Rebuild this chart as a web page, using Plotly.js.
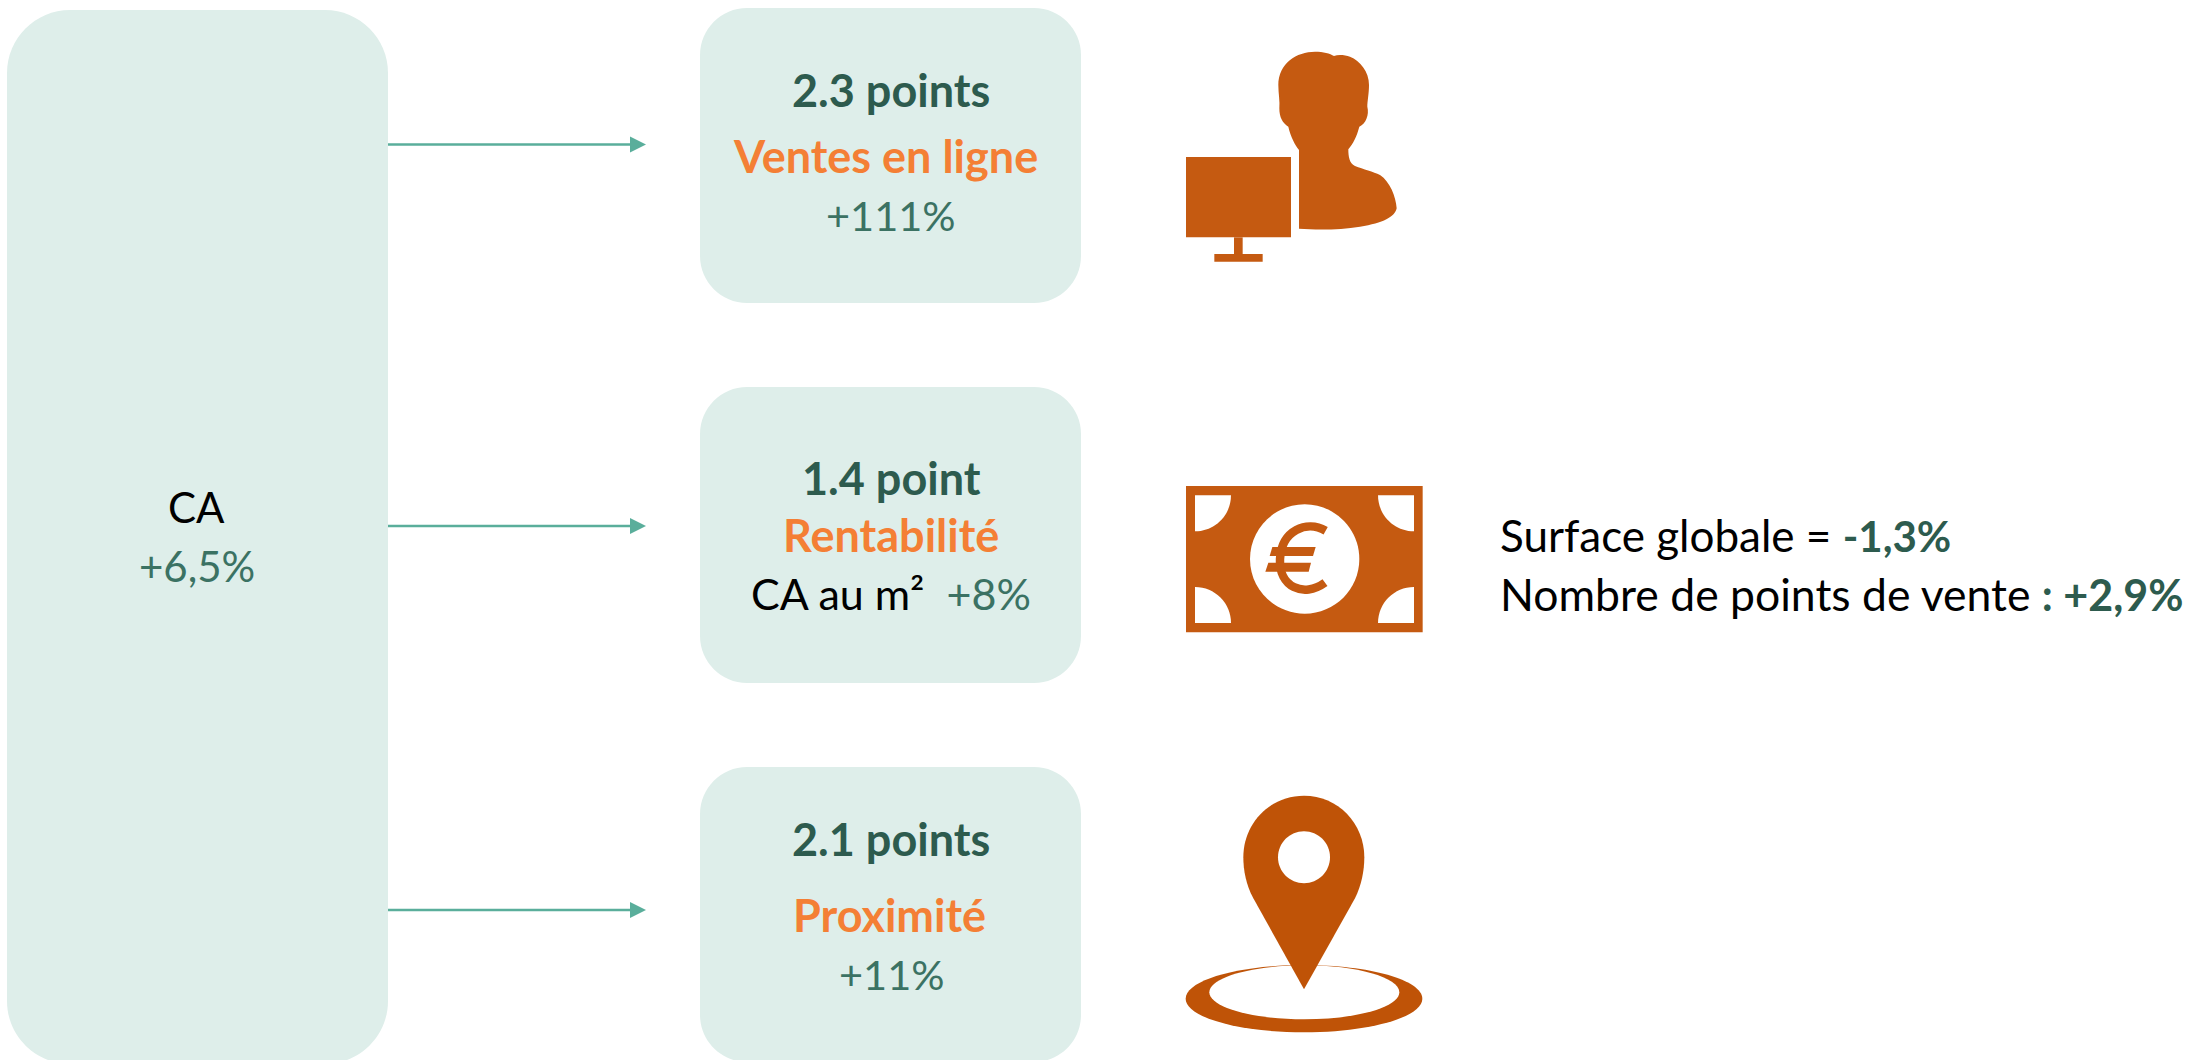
<!DOCTYPE html>
<html><head><meta charset="utf-8">
<script src="https://cdn.plot.ly/plotly-3.0.1.min.js"></script>
<style>html,body{margin:0;padding:0;background:#fff}#c{width:2195px;height:1060px}</style>
</head><body><div id="c"></div>
<script>
const GREEN='#2D5B4E', TEAL='#3B7263', ORANGE='#F47F35', ICON='#C55A11', PIN='#BF5307', BOX='#DEEEEA', ARROW='#5AAE9B';

const pointsLabels=['2.3 points','1.4 point','2.1 points'];
const driverLabels=['Ventes en ligne','Rentabilité','Proximité'];
const driverValues=['+111%','+8%','+11%'];
const totalLabel='CA', totalValue='+6,5%';
const noteLabels=['Surface globale = ','Nombre de points de vente '];
const noteValues=['-1,3%',': +2,9%'];

const boxTops=[8,387,767], boxBottoms=[303,683,1062];
const arrowYs=[144.5,526,910];
const pointsYs=[90,478,839], driverYs=[156,535,915], valueYs=[215,593,974];
const driverXs=[885,891,889], valueSizes=[41.5,43,41.5];

function rr(x0,y0,x1,y1,r){const k=r*0.45;return `M${x0+r} ${y0}L${x1-r} ${y0}C${x1-k} ${y0} ${x1} ${y0+k} ${x1} ${y0+r}L${x1} ${y1-r}C${x1} ${y1-k} ${x1-k} ${y1} ${x1-r} ${y1}L${x0+r} ${y1}C${x0+k} ${y1} ${x0} ${y1-k} ${x0} ${y1-r}L${x0} ${y0+r}C${x0} ${y0+k} ${x0+k} ${y0} ${x0+r} ${y0}Z`;}
function ell(cx,cy,a,b){const k=0.5523;return `M${cx-a} ${cy}C${cx-a} ${cy-k*b} ${cx-k*a} ${cy-b} ${cx} ${cy-b}C${cx+k*a} ${cy-b} ${cx+a} ${cy-k*b} ${cx+a} ${cy}C${cx+a} ${cy+k*b} ${cx+k*a} ${cy+b} ${cx} ${cy+b}C${cx-k*a} ${cy+b} ${cx-a} ${cy+k*b} ${cx-a} ${cy}Z`;}
// icon outlines are authored at 3x and mapped to the page
function loc(s,ox,oy){let i=0;return s.replace(/-?\d+(\.\d+)?/g,m=>{const v=+m/3+(i++%2===0?ox:oy);return v.toFixed(2);});}
function sh(path,fill,extra){return Object.assign({type:'path',xref:'x',yref:'y',path,fillcolor:fill,line:{width:0},layer:'above'},extra||{});}

const shapes=[];
shapes.push(sh(rr(7,10,388,1064,63),BOX));
boxTops.forEach((t,i)=>shapes.push(sh(rr(700,t,1081,boxBottoms[i],47),BOX)));
arrowYs.forEach(y=>{
  shapes.push({type:'line',xref:'x',yref:'y',x0:388,x1:632,y0:y,y1:y,line:{color:ARROW,width:2.5},layer:'above'});
  shapes.push(sh(`M630 ${y-8}L646 ${y}L630 ${y+8}Z`,ARROW));
});
// person + monitor
const P=[1160,30];
shapes.push(sh(loc('M417 360C405 345 392 320 385 290C368 280 358 262 358 235C360 215 355 190 355 165C355 100 410 65 465 65C490 65 510 70 522 78C535 73 555 75 570 80C600 92 627 125 627 165C627 190 622 215 622 230C628 255 618 280 598 290C590 320 580 340 565 358C565 380 568 400 585 408C610 418 640 425 660 435C690 455 708 500 710 535C705 560 670 580 600 590C540 600 470 600 417 596Z',...P),ICON));
shapes.push(sh(loc('M78 381L393 381L393 622L78 622Z',...P),ICON));
shapes.push(sh(loc('M222 622L248 622L248 672L222 672Z',...P),ICON));
shapes.push(sh(loc('M163 672L308 672L308 695L163 695Z',...P),ICON));
// banknote
const B=[1160,470];
shapes.push(sh(loc('M78 48L788 48L788 487L78 487Z',...B),ICON));
[[105,76,1,1],[762,76,-1,1],[105,459,1,-1],[762,459,-1,-1]].forEach(([cx,cy,sx,sy])=>{
  const r=108,k=0.5523*r;
  shapes.push(sh(loc(`M${cx} ${cy}L${cx+sx*r} ${cy}C${cx+sx*r} ${cy+sy*k} ${cx+sx*k} ${cy+sy*r} ${cx} ${cy+sy*r}Z`,...B),'#FFFFFF'));
});
shapes.push(sh(loc(ell(434,267,164,164),...B),'#FFFFFF'));
shapes.push({type:'path',xref:'x',yref:'y',layer:'above',fillcolor:'rgba(0,0,0,0)',line:{color:ICON,width:8.5},
  path:loc('M497 182C440 150 365 180 360 267C356 350 430 385 495 338',...B)});
shapes.push(sh(loc('M337 231L467 231L459 258L329 258Z',...B),ICON));
shapes.push(sh(loc('M325 278L453 278L446 305L316 305Z',...B),ICON));
// map pin
const M=[1160,780];
shapes.push(sh(loc(ell(432,656,355,101),...M),PIN));
shapes.push(sh(loc(ell(433,637,285,81),...M),'#FFFFFF'));
shapes.push(sh(loc('M432 628L280 355C258 315 250 270 250 232C250 130 330 47 432 47C534 47 613 130 613 232C613 270 605 315 585 355Z',...M),PIN));
shapes.push(sh(loc(ell(432,232,78,78),...M),'#FFFFFF'));

const F='Lato, sans-serif';
const BOLD=45, REG=42;
function note(x,y,text,size,color,anchor){return {xref:'x',yref:'y',x,y,text,showarrow:false,xanchor:anchor||'center',yanchor:'middle',align:anchor||'center',font:{family:F,size,color}};}
const annotations=[
  note(196,507,totalLabel,REG,'#000000'),
  note(197,566,totalValue,REG,TEAL)
];
pointsLabels.forEach((t,i)=>annotations.push(note(891,pointsYs[i],'<b>'+t+'</b>',BOLD,GREEN)));
driverLabels.forEach((t,i)=>annotations.push(note(driverXs[i],driverYs[i],'<b>'+t+'</b>',BOLD,ORANGE)));
driverValues.forEach((t,i)=>{
  const txt=i===1?`CA au m²  <span style="color:${TEAL}">${t}</span>`:`<span style="color:${TEAL}">${t}</span>`;
  annotations.push(note(891,valueYs[i],txt,valueSizes[i],'#000000'));
});
annotations.push(note(1498,535,`${noteLabels[0]}<b><span style="color:${GREEN};font-size:42px">${noteValues[0]}</span></b>`,44,'#000000','left'));
annotations.push(note(1498,593,`${noteLabels[1]}<b><span style="color:${GREEN};font-size:43px">${noteValues[1]}</span></b>`,44.5,'#000000','left'));

const data=[{type:'scatter',x:[0,2195],y:[0,1060],mode:'none',hoverinfo:'skip',showlegend:false}];
const layout={width:2195,height:1060,margin:{l:0,r:0,t:0,b:0},paper_bgcolor:'#fff',plot_bgcolor:'#fff',showlegend:false,
  xaxis:{range:[0,2195],visible:false,fixedrange:true},
  yaxis:{range:[1060,0],visible:false,fixedrange:true},
  shapes,annotations};
Plotly.newPlot('c',data,layout,{displayModeBar:false,staticPlot:true});
</script></body></html>
